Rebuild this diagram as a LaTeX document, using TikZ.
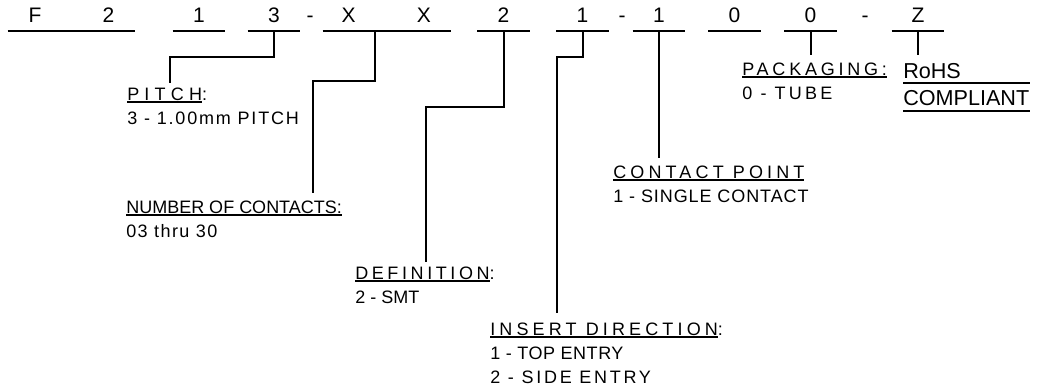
\documentclass[tikz,border=0pt]{standalone}
\usepackage{fontspec}
\setmainfont{Liberation Sans}
\newcommand{\hd}[1]{\setbox0=\hbox{#1}\rlap{\rule[-2pt]{\wd0}{0.9pt}}\box0}
\newcommand{\ls}[2]{{\addfontfeature{LetterSpace=#1}#2}}

\begin{document}
\begin{tikzpicture}[x=0.75pt,y=-0.75pt]
  \tikzset{seg/.style={anchor=south, inner xsep=0pt, inner ysep=6.4pt, text depth=0pt, minimum width=39pt, font=\fontsize{15.75pt}{18pt}\selectfont}}
  \tikzset{hyph/.style={anchor=base, inner sep=0pt, font=\fontsize{15.75pt}{18pt}\selectfont}}
  \tikzset{lbl/.style={anchor=base west, align=left, inner sep=0pt, font=\fontsize{13.5pt}{18pt}\selectfont}}
  \tikzset{rohs/.style={anchor=base west, inner sep=0pt, font=\fontsize{16.2pt}{19pt}\selectfont}}
  \tikzset{bar/.style={line width=1.5pt}}
  \tikzset{lead/.style={line width=1.5pt}}
  \useasboundingbox (0,0) rectangle (1046,385);

  \node [seg] (g1)  at (71.5,31) {\makebox[95.25pt]{\hspace{15.5pt}F\hfill 2\hspace{15.5pt}}};
  \node [seg] (g2)  at (199,31)  {1};
  \node [seg] (g3)  at (274,31)  {3};
  \node [hyph] (h1) at (310,22.5) {-};
  \node [seg] (g4)  at (387,31)  {\makebox[96pt]{\hspace{14pt}X\hfill X\hspace{15pt}}};
  \node [seg] (g5)  at (503.5,31) {2};
  \node [seg] (g6)  at (582.5,31) {1};
  \node [hyph] (h2) at (622,22.5) {-};
  \node [seg] (g7)  at (659,31)  {1};
  \node [seg] (g8)  at (734.5,31) {0};
  \node [seg] (g9)  at (810.5,31) {0};
  \node [hyph] (h3) at (865,22.5) {-};
  \node [seg] (g10) at (918,31)  {Z};

  \foreach \g in {g1,g2,g3,g4,g5,g6,g7,g8,g9,g10}
    \draw [bar] (\g.south west) -- (\g.south east);

  \node [lbl] (pitch) at (127,124) {\hd{\ls{29}{PITCH}}:\\\ls{10}{3 - 1.00mm PITCH}};
  \node [lbl] (num)   at (126,237) {\hd{NUMBER OF CONTACTS:}\\\ls{8}{03 thru 30}};
  \node [lbl] (def)   at (355,303) {\hd{\ls{20}{DEFINITION}}:\\2 - SMT};
  \node [lbl] (ins)   at (490,383) {\hd{\ls{23}{INSERT DIRECTION}}:\\\ls{3}{1 - TOP ENTRY}\\\ls{15}{2 - SIDE ENTRY}};
  \node [lbl] (cpt)   at (613,202) {\hd{\ls{23}{CONTACT POINT}}\\\ls{5}{1 - SINGLE CONTACT}};
  \node [lbl] (pack)  at (742,99)  {\hd{\ls{21}{PACKAGING:}}\\\ls{18}{0 - TUBE}};
  \node [rohs] (roh)  at (903,79)  {RoHS};
  \node [rohs] (cmp)  at (903,105) {COMPLIANT};

  \draw [bar] ([yshift=-3pt]roh.south west) -- ([yshift=-3pt]roh.south west -| cmp.south east);
  \draw [bar] ([yshift=-4.5pt]cmp.south west) -- ([yshift=-4.5pt]cmp.south east);

  \coordinate (pe) at (170,83);
  \coordinate (ne) at (313,193);
  \coordinate (de) at (426,262);
  \coordinate (ie) at (557,313);
  \coordinate (ce) at (659,158);
  \coordinate (ke) at (810,55);
  \coordinate (re) at (918,55);

  \foreach \from/\dx/\drop/\to in {g3/0/26/pe, g4/-9/50/ne, g5/0/76/de, g6/0/26/ie}
    \draw [lead] ([xshift=\dx pt]\from.south) -- ++(0,\drop) -| (\to);
  \foreach \from/\to in {g7/ce, g9/ke, g10/re}
    \draw [lead] (\from.south) -- (\from.south |- \to);
\end{tikzpicture}
\end{document}
